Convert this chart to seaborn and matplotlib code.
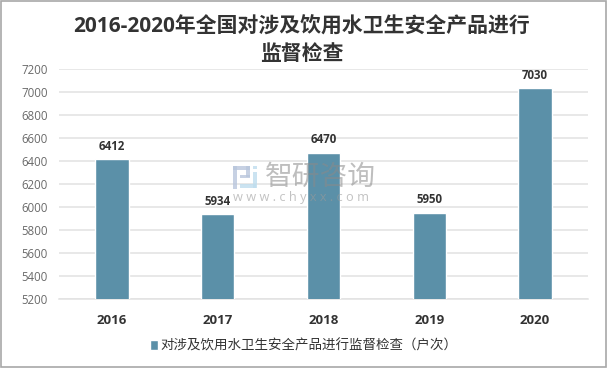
import matplotlib
matplotlib.use('Agg')
import matplotlib.pyplot as plt
from matplotlib.patches import Rectangle
import pandas as pd
import seaborn as sns

years = ['2016', '2017', '2018', '2019', '2020']
values = [6412, 5934, 6470, 5950, 7030]
y_ticks = [5200, 5400, 5600, 5800, 6000, 6200, 6400, 6600, 6800, 7000, 7200]
series_name = '对涉及饮用水卫生安全产品进行监督检查（户次）'
title = '2016-2020年全国对涉及饮用水卫生安全产品进行\n监督检查'

W, H = 607, 369
BAR = '#5B90A8'
GRID = '#E2E2E2'
DARK = '#333333'
GREY = '#6A6A6A'

sns.set_theme(style='white')
plt.rcParams['font.family'] = ['Open Sans', 'Noto Sans CJK SC', 'DejaVu Sans']

df = pd.DataFrame({'year': years, 'value': values})

fig = plt.figure(figsize=(W / 100, H / 100), dpi=100)
ax = fig.add_axes([59 / W, 1 - 299 / H, 529 / W, (299 - 68.5) / H])
sns.barplot(data=df, x='year', y='value', color=BAR, saturation=1, width=0.315,
            label=series_name, ax=ax, zorder=3)

ax.set_ylim(5200, 7200)
ax.set_xlim(-0.5, 4.5)
ax.set_yticks(y_ticks)
ax.set_xlabel('')
ax.set_ylabel('')
ax.grid(axis='y', color=GRID, linewidth=1.1, zorder=0)
ax.set_axisbelow(True)
for s in ['top', 'left', 'right']:
    ax.spines[s].set_visible(False)
ax.spines['bottom'].set_color(GRID)
ax.spines['bottom'].set_linewidth(1.1)
ax.tick_params(axis='y', length=0, labelsize=8.3, labelcolor=GREY, pad=8)
ax.tick_params(axis='x', length=0, labelsize=9.5, labelcolor=DARK, pad=10.5)
for t in ax.get_xticklabels():
    t.set_fontweight('bold')

for c in ax.containers:
    ax.bar_label(c, fmt='%d', padding=4.5, fontsize=8.3, fontweight='bold', color=DARK)

fig.text(302 / W, 1 - 27.5 / H, title.split('\n')[0], ha='center', va='center',
         fontsize=15, fontweight='bold', color=DARK)
fig.text(302 / W, 1 - 55 / H, title.split('\n')[1], ha='center', va='center',
         fontsize=15, fontweight='bold', color=DARK)

leg = ax.legend(loc='center', bbox_to_anchor=(304 / W, 1 - 346 / H),
                bbox_transform=fig.transFigure, frameon=False, fontsize=9.7,
                handlelength=0.6, handleheight=0.7, handletextpad=0.2)
for t in leg.get_texts():
    t.set_color(DARK)

# watermark
fig.text(265 / W, 1 - 178 / H, '智研咨询', ha='left', va='center', fontsize=20,
         color='#8A8A8A', alpha=0.55, zorder=10)
fig.text(233 / W, 1 - 197 / H, 'w w w . c h y x x . c o m', ha='left', va='center',
         fontsize=9.2, color='#9A9A9A', alpha=0.6, zorder=10)
for x, y, w, h, col in [(233, 166, 17, 4, '#B9C6DC'), (233, 166, 4, 23, '#B9C6DC'),
                        (246, 166, 4, 11, '#B9C6DC'), (240, 175, 10, 3, '#B9C6DC'),
                        (240, 184, 16, 4, '#BFDDEE'), (253, 172, 4, 16, '#BFDDEE'),
                        (253, 166, 4, 3, '#BFDDEE')]:
    fig.add_artist(Rectangle((x / W, 1 - (y + h) / H), w / W, h / H,
                             transform=fig.transFigure, facecolor=col, edgecolor='none',
                             alpha=0.8, zorder=10))

# outer border of the picture
fig.add_artist(Rectangle((0.5 / W, 1 - 367 / H), 605 / W, 366 / H, transform=fig.transFigure,
                         facecolor='none', edgecolor='#A8A8A8', linewidth=1.2))

plt.savefig('out.png', dpi=100)
plt.close(fig)
